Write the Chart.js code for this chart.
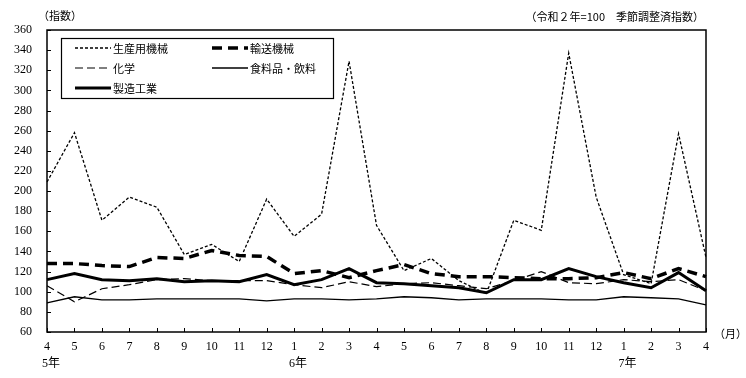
<!DOCTYPE html>
<html lang="ja">
<head>
<meta charset="utf-8">
<script src="https://cdn.jsdelivr.net/npm/chart.js@4.4.0/dist/chart.umd.min.js"></script>
<style>
  html, body { margin: 0; padding: 0; background: #fff; }
  #wrap { width: 746px; height: 378px; position: relative; }
</style>
</head>
<body>
<div id="wrap"><canvas id="c"></canvas></div>
<script>
// months from 令和5年4月 to 令和7年4月
const months = ['4','5','6','7','8','9','10','11','12','1','2','3','4','5','6','7','8','9','10','11','12','1','2','3','4'];
const years  = ['5年','','','','','','','','','6年','','','','','','','','','','','','7年','','',''];

const machinery     = [209, 258, 171, 194, 184, 137, 147, 130, 192, 155, 177, 329, 166, 121, 133, 111, 98, 171, 161, 337, 194, 117, 108, 257, 134];
const transport     = [128, 128, 126, 125, 134, 133, 141, 136, 135, 118, 121, 114, 121, 127, 118, 115, 115, 114, 113, 113, 114, 119, 113, 123, 115];
const chemical      = [106, 90, 103, 107, 112, 113, 111, 111, 111, 107, 104, 110, 105, 108, 109, 106, 103, 111, 120, 109, 108, 112, 110, 112, 101];
const food          = [89, 95, 92, 92, 93, 93, 93, 93, 91, 93, 93, 92, 93, 95, 94, 92, 93, 93, 93, 92, 92, 95, 94, 93, 87];
const manufacturing = [112, 118, 112, 111, 113, 110, 111, 110, 117, 107, 112, 123, 109, 108, 106, 104, 99, 112, 112, 123, 115, 109, 104, 119, 101];

const JP = '"Noto Sans CJK JP", sans-serif';
const NUM = '"Liberation Serif", "Noto Sans CJK JP", serif';

const series = [
    { label: '生産用機械',   data: machinery,     width: 1.3, dash: [3, 2] },
    { label: '輸送機械',     data: transport,     width: 3.5, dash: [10, 6] },
    { label: '化学',         data: chemical,      width: 1.2, dash: [8, 4] },
    { label: '食料品・飲料', data: food,          width: 1.3, dash: [] },
    { label: '製造工業',     data: manufacturing, width: 3,   dash: [] },
];

// frame, inward ticks, year row, boxed legend and notes
const framePlugin = {
    id: 'frame',
    afterDatasetsDraw(chart) {
        const { ctx, chartArea: a, scales: { x, y } } = chart;
        ctx.save();
        ctx.strokeStyle = '#000';
        ctx.setLineDash([]);
        ctx.lineWidth = 1.5;
        ctx.strokeRect(a.left, a.top, a.right - a.left, a.bottom - a.top);

        ctx.lineWidth = 1;
        ctx.beginPath();
        y.ticks.forEach((t, i) => {
            const py = Math.round(y.getPixelForTick(i)) + 0.5;
            ctx.moveTo(a.left, py);
            ctx.lineTo(a.left + 4, py);
        });
        x.ticks.forEach((t, i) => {
            const px = Math.round(x.getPixelForTick(i)) + 0.5;
            ctx.moveTo(px, a.bottom);
            ctx.lineTo(px, a.bottom - 4);
        });
        ctx.stroke();

        // year labels under the month ticks
        ctx.fillStyle = '#000';
        ctx.font = '12px ' + NUM;
        ctx.textAlign = 'center';
        ctx.textBaseline = 'middle';
        years.forEach((yr, i) => {
            if (yr) ctx.fillText(yr, x.getPixelForValue(i) + 4, a.bottom + 32);
        });

        // legend box
        const bx = a.left + 14, by = a.top + 8, bw = 272, bh = 60;
        ctx.fillStyle = '#fff';
        ctx.fillRect(bx, by, bw, bh);
        ctx.lineWidth = 1.2;
        ctx.strokeRect(bx + 0.5, by + 0.5, bw, bh);

        const slots = [
            [bx + 14, by + 10], [bx + 151, by + 10],
            [bx + 14, by + 30], [bx + 151, by + 30],
            [bx + 14, by + 50]
        ];
        ctx.font = '11px ' + JP;
        ctx.textAlign = 'left';
        series.forEach((s, i) => {
            const [sx, sy] = slots[i];
            ctx.beginPath();
            ctx.lineWidth = s.width;
            ctx.setLineDash(s.dash);
            ctx.moveTo(sx, sy);
            ctx.lineTo(sx + 36, sy);
            ctx.stroke();
            ctx.setLineDash([]);
            ctx.fillStyle = '#000';
            ctx.fillText(s.label, sx + 38, sy + 1);
        });

        ctx.font = '11px ' + JP;
        ctx.fillText('（指数）', 38, 16);
        ctx.textAlign = 'right';
        ctx.fillText('（令和２年=100　季節調整済指数）', 704, 17);
        ctx.textAlign = 'left';
        ctx.fillText('（月）', a.right + 8, a.bottom + 2);
        ctx.restore();
    }
};

new Chart(document.getElementById('c'), {
    type: 'line',
    data: {
        labels: months,
        datasets: series.map(s => ({
            label: s.label,
            data: s.data,
            borderColor: '#000',
            borderWidth: s.width,
            borderDash: s.dash,
            pointRadius: 0,
            tension: 0,
            fill: false
        }))
    },
    options: {
        responsive: true,
        maintainAspectRatio: false,
        animation: false,
        layout: { padding: { left: 0, right: 40, top: 30, bottom: 0 } },
        scales: {
            x: {
                offset: false,
                grid: { display: false, drawTicks: false },
                border: { display: false },
                ticks: {
                    autoSkip: false,
                    maxRotation: 0,
                    padding: 6,
                    color: '#000',
                    font: { family: NUM, size: 12, lineHeight: 1.42 }
                },
                afterFit: s => { s.height = 46; }
            },
            y: {
                min: 60,
                max: 360,
                grid: { display: false, drawTicks: false },
                border: { display: false },
                ticks: {
                    stepSize: 20,
                    padding: 15,
                    color: '#000',
                    font: { family: NUM, size: 12 }
                },
                afterFit: s => { s.width = 47; }
            }
        },
        plugins: {
            legend: { display: false },
            tooltip: { enabled: false }
        }
    },
    plugins: [framePlugin]
});
</script>
</body>
</html>
